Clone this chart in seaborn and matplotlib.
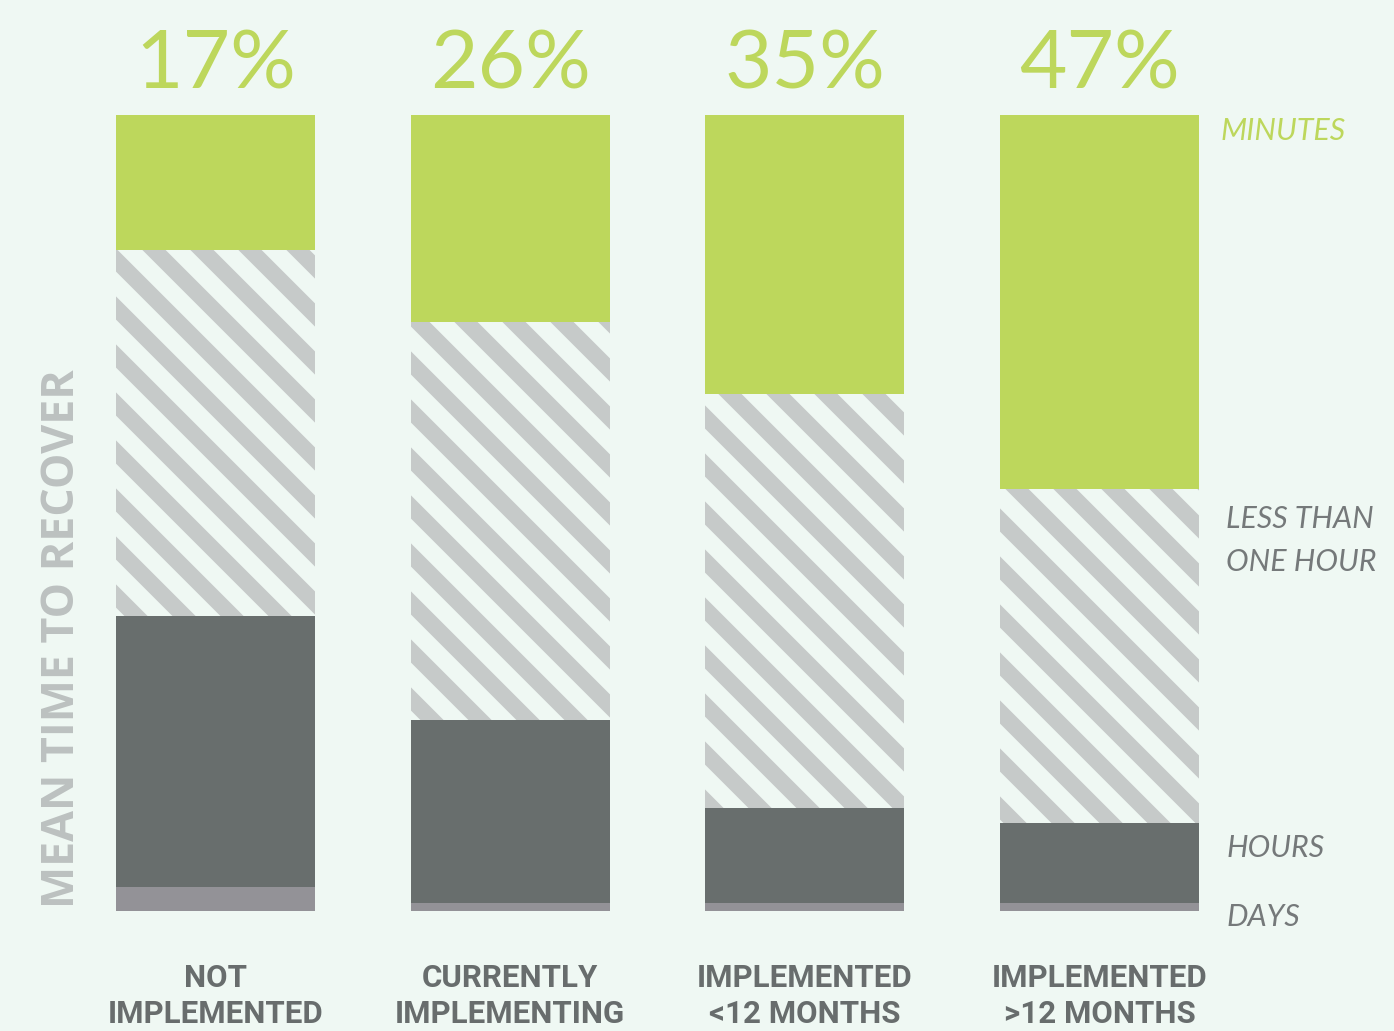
import matplotlib
matplotlib.use("Agg")
import matplotlib.pyplot as plt
import pandas as pd
import seaborn as sns

# ---- data (percent of respondents, bottom to top: days, hours, <1 hour, minutes)
categories = ["NOT\nIMPLEMENTED", "CURRENTLY\nIMPLEMENTING",
              "IMPLEMENTED\n<12 MONTHS", "IMPLEMENTED\n>12 MONTHS"]
minutes = [17, 26, 35, 47]
less_than_hour = [46, 50, 52, 42]
hours = [34, 23, 12, 10]
days = [3, 1, 1, 1]
segment_labels = ["MINUTES", "LESS THAN\nONE HOUR", "HOURS", "DAYS"]
axis_title = "MEAN TIME TO RECOVER"

# ---- style
BG = "#eff8f3"
GREEN = "#bdd75c"
DARK = "#686e6d"
DAYS_C = "#939297"
HATCH_C = "#c6cac9"
LABEL_GRAY = "#75797a"
CAT_GRAY = "#686d6d"
YLAB_GRAY = "#bcc1c0"

DPI = 288
W, H = 1394, 1031

sns.set_style("white")
plt.rcParams["hatch.linewidth"] = 4.1

df = pd.DataFrame({"category": categories, "minutes": minutes,
                   "less": less_than_hour, "hours": hours, "days": days})
df["top_days"] = df["days"]
df["top_hours"] = df["top_days"] + df["hours"]
df["top_less"] = df["top_hours"] + df["less"]
df["top_minutes"] = df["top_less"] + df["minutes"]

fig = plt.figure(figsize=(W / DPI, H / DPI), dpi=DPI, facecolor=BG)
ax = fig.add_axes([68 / W, 120 / H, 1179 / W, 796 / H])
ax.set_facecolor(BG)

layers = [("top_minutes", GREEN, None),
          ("top_less", BG, "\\\\"),
          ("top_hours", DARK, None),
          ("top_days", DAYS_C, None)]
for col, color, hatch in layers:
    n0 = len(ax.patches)
    sns.barplot(data=df, x="category", y=col, color=color, saturation=1,
                width=0.675, errorbar=None, linewidth=0, ax=ax)
    for p in ax.patches[n0:]:
        p.set_linewidth(0)
        if hatch:
            p.set_hatch(hatch)
            p.set_edgecolor(HATCH_C)

ax.set_xlim(-0.5, 3.5)
ax.set_ylim(0, 100)
sns.despine(ax=ax, left=True, bottom=True)
ax.set_yticks([])
ax.set_xlabel("")
ax.tick_params(axis="x", length=0, pad=13)
ax.set_xticks(range(len(categories)))
ax.set_xticklabels(categories, fontfamily="Roboto", fontweight="bold",
                   fontsize=7.8, color=CAT_GRAY, linespacing=1.25)

# percentage headline above each bar
for i, m in enumerate(minutes):
    ax.text(i, 106.2, f"{m}%", ha="center", va="center", fontfamily="Lato",
            fontsize=20.5, color=GREEN, clip_on=False)

# segment labels at right
lab_kw = dict(ha="left", va="center", fontfamily="Lato", fontstyle="italic",
              fontsize=7.6, clip_on=False)
ax.text(3.41, 98.0, segment_labels[0], color=GREEN, **lab_kw)
ax.text(3.43, 46.6, segment_labels[1], color=LABEL_GRAY, linespacing=1.65, **lab_kw)
ax.text(3.43, 7.9, segment_labels[2], color=LABEL_GRAY, **lab_kw)
ax.text(3.43, -0.8, segment_labels[3], color=LABEL_GRAY, **lab_kw)

# y-axis title
ax.set_ylabel(axis_title, fontfamily="Open Sans", fontweight="bold",
              fontsize=11.2, color=YLAB_GRAY, ha="left")
ax.yaxis.set_label_coords(17 / 1179, 3 / 796)

fig.savefig("out.png", dpi=DPI, facecolor=BG)
